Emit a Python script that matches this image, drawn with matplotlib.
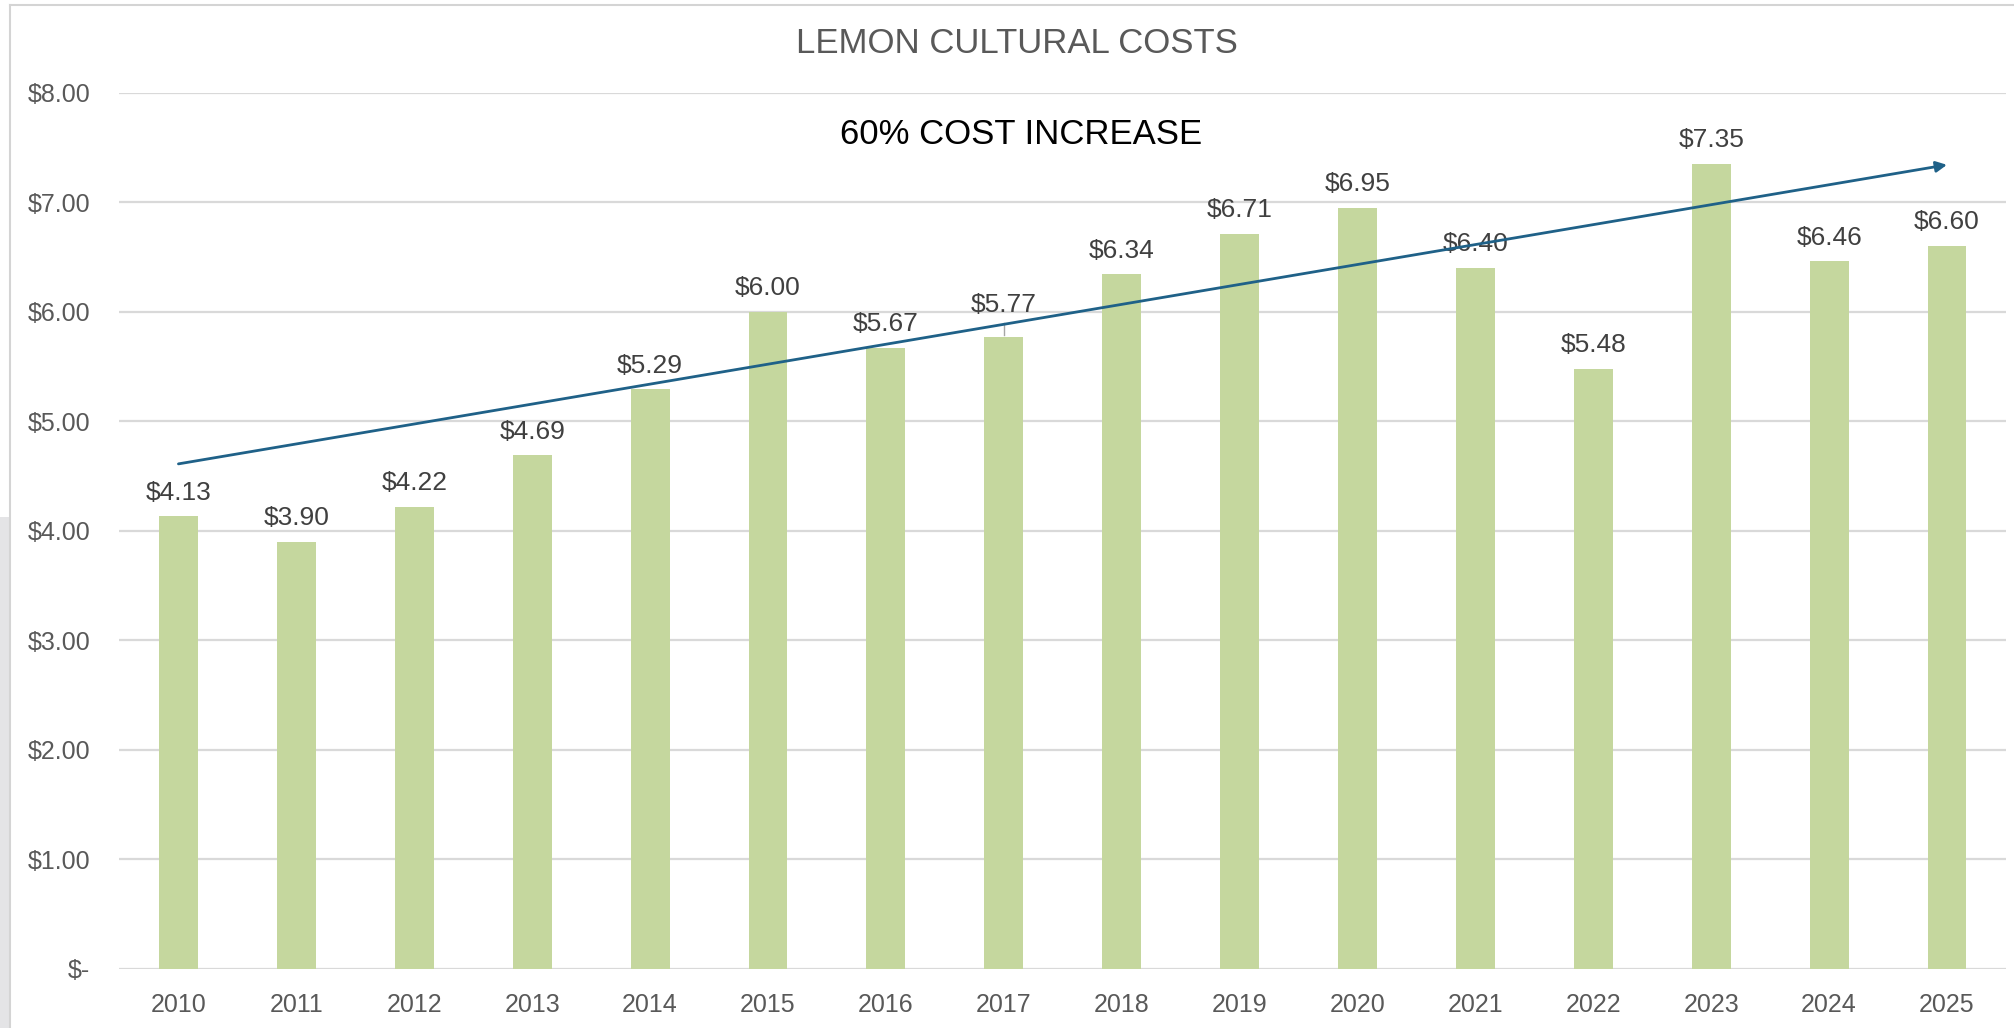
import matplotlib.pyplot as plt
from matplotlib.patches import Rectangle
from matplotlib.lines import Line2D
import numpy as np

years = [2010, 2011, 2012, 2013, 2014, 2015, 2016, 2017,
         2018, 2019, 2020, 2021, 2022, 2023, 2024, 2025]
costs = [4.13, 3.90, 4.22, 4.69, 5.29, 6.00, 5.67, 5.77,
         6.34, 6.71, 6.95, 6.40, 5.48, 7.35, 6.46, 6.60]
yticks = [0, 1, 2, 3, 4, 5, 6, 7, 8]
ytick_labels = ['$-', '$1.00', '$2.00', '$3.00', '$4.00', '$5.00', '$6.00', '$7.00', '$8.00']

# trend arrow end points (year index, $)
trend_start = (0, 4.61)
trend_end = (15, 7.34)

font = ['Liberation Sans', 'DejaVu Sans']
grey = '#595959'

fig = plt.figure(figsize=(20.15, 10.28), dpi=100)
ax = fig.add_axes([0.0593, 0.0575, 0.9362, 0.8525])

x = np.arange(len(years))
ax.bar(x, costs, width=0.33, color='#c5d79e', zorder=2)

ax.set_xlim(-0.5, len(years) - 0.5)
ax.set_ylim(0, 8)
ax.set_yticks(yticks)
ax.set_yticklabels(ytick_labels, family=font, fontsize=18, color=grey)
ax.set_xticks(x)
ax.set_xticklabels([str(y) for y in years], family=font, fontsize=18, color=grey)
ax.tick_params(length=0)
ax.tick_params(axis='y', pad=21)
ax.tick_params(axis='x', pad=17)
ax.grid(axis='y', color='#d9d9d9', lw=1.6, zorder=0)
for s in ax.spines.values():
    s.set_visible(False)

# value labels
for i, v in enumerate(costs):
    off = 17
    if years[i] == 2017:
        off = 23
        ax.add_line(Line2D([i, i], [v + 0.02, v + 0.13], color='#a6a6a6', lw=1, zorder=3))
    ax.annotate('${:.2f}'.format(v), (i, v), xytext=(0, off), textcoords='offset points',
                ha='center', va='center', family=font, fontsize=19, color='#404040')

ax.annotate('', xy=trend_end, xytext=trend_start,
            arrowprops=dict(arrowstyle='-|>', color='#1f6188', lw=2, mutation_scale=16,
                            shrinkA=0, shrinkB=0), zorder=4)

ax.text(0.478, 0.952, '60% COST INCREASE', transform=ax.transAxes, ha='center', va='center',
        family=font, fontsize=25, color='black')

fig.text(0.5045, 0.958, 'LEMON CULTURAL COSTS', ha='center', va='center',
         family=font, fontsize=25, color=grey)

# window frame around the chart area
fig.add_artist(Line2D([10 / 2015, 10 / 2015], [0, 1 - 5 / 1028], transform=fig.transFigure,
                      color='#d4d4d4', lw=1.5))
fig.add_artist(Line2D([10 / 2015, 1], [1 - 5 / 1028, 1 - 5 / 1028], transform=fig.transFigure,
                      color='#d4d4d4', lw=1.5))
fig.add_artist(Rectangle((0, 0), 9 / 2015, 1 - 517 / 1028, transform=fig.transFigure,
                         color='#e4e4e6', lw=0))

fig.savefig('out.png', dpi=100)
